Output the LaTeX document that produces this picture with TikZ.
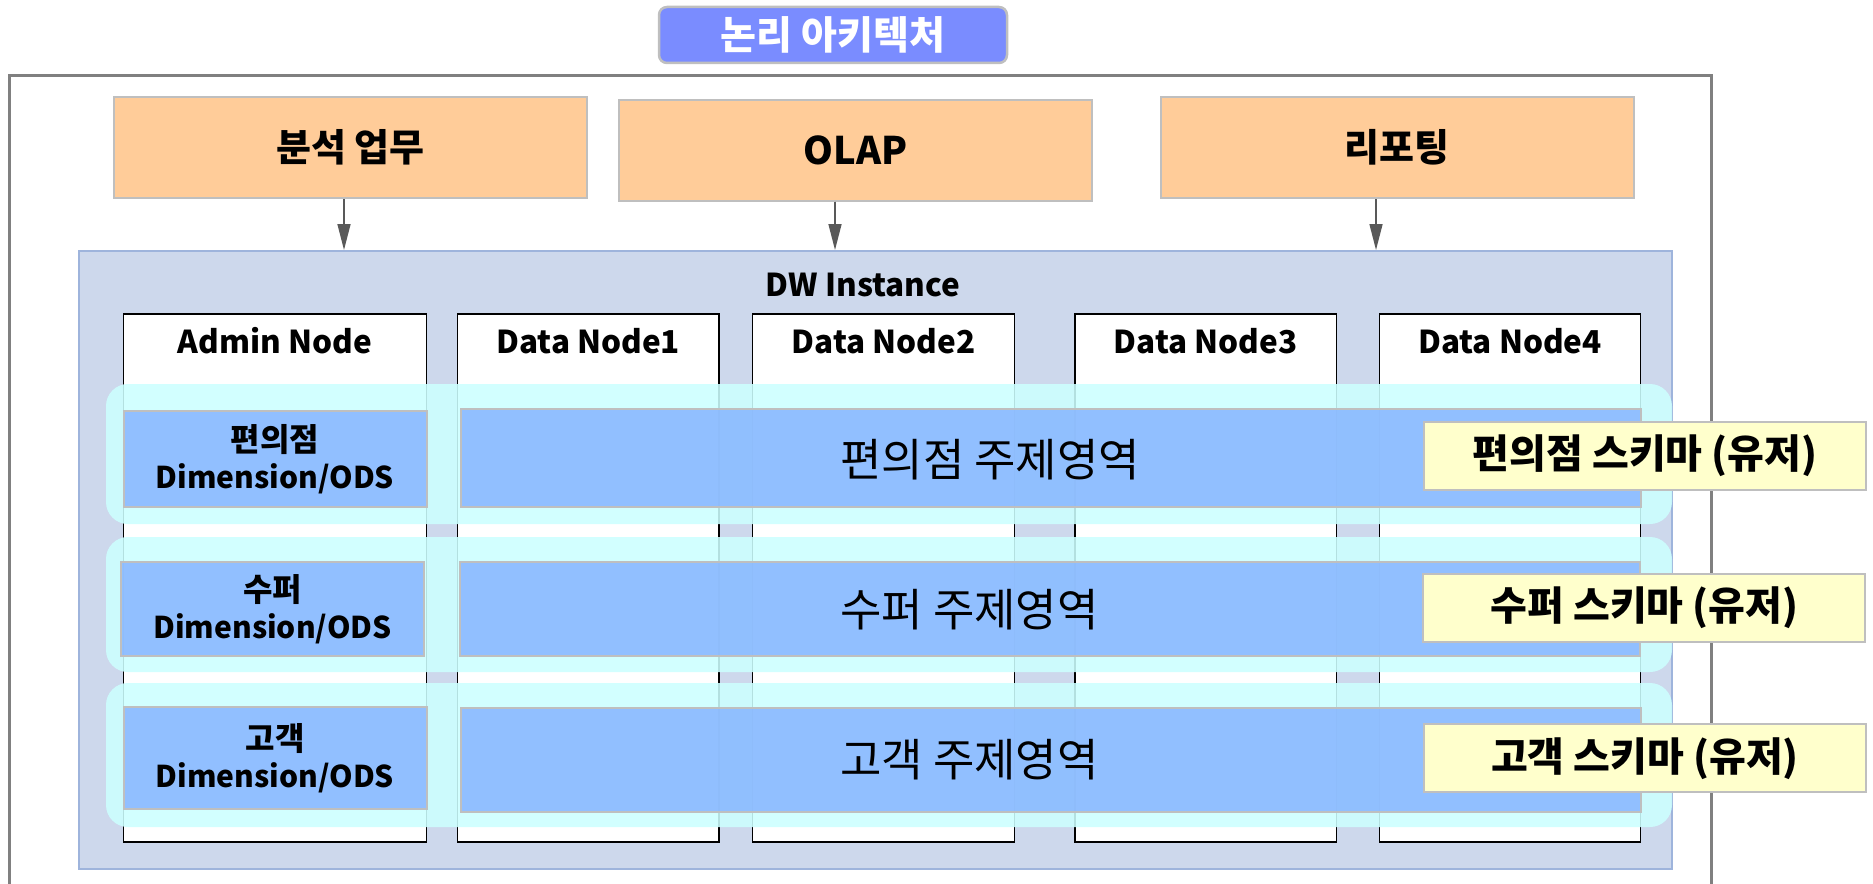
\documentclass[tikz,border=0pt]{standalone}
\usepackage{fontspec}
\setmainfont{Noto Sans CJK KR}
\usetikzlibrary{positioning,arrows.meta}

\definecolor{titleblue}{RGB}{122,140,255}
\definecolor{framegray}{RGB}{128,128,128}
\definecolor{boxgray}{RGB}{191,191,191}
\definecolor{taskorange}{RGB}{255,204,153}
\definecolor{dwfill}{RGB}{205,216,236}
\definecolor{dwline}{RGB}{158,180,220}
\definecolor{bandcyan}{RGB}{204,255,255}
\definecolor{areablue}{RGB}{138,185,255}
\definecolor{schemayellow}{RGB}{255,255,204}
\definecolor{arrowgray}{RGB}{89,89,89}

\newcommand{\fsize}[2]{\fontsize{#1}{#2}\selectfont}

\tikzset{
  task/.style={draw=boxgray,line width=2pt,fill=taskorange,inner sep=0pt,minimum width=473pt,minimum height=101pt,font=\fsize{38}{42}\bfseries},
  column/.style={draw=black,line width=1.5pt,fill=white,inner sep=0pt,minimum height=528pt},
  colname/.style={font=\fsize{31.5}{36}\bfseries},
  band/.style={fill=bandcyan,fill opacity=0.88,rounded corners=22pt,inner sep=0pt,minimum width=1566pt},
  dimbox/.style={draw=boxgray,line width=2pt,fill=areablue,fill opacity=0.9,text opacity=1,inner sep=0pt,minimum width=303pt,align=center,font=\fsize{32}{37}\bfseries},
  areabox/.style={draw=boxgray,line width=2pt,fill=areablue,fill opacity=0.9,inner sep=0pt,minimum width=1180pt},
  areaname/.style={inner sep=0pt,anchor=west,font=\fsize{45}{50}},
  schema/.style={draw=boxgray,line width=2pt,fill=schemayellow,inner sep=0pt,minimum width=442pt,minimum height=68pt,font=\fsize{40}{44}\bfseries},
  feed/.style={-{Triangle[length=26pt,width=13pt]},line width=1.5pt,draw=arrowgray,fill=arrowgray}
}

\begin{document}
\begin{tikzpicture}[x=1pt,y=-1pt]
 \useasboundingbox (0,0) rectangle (1873,883);

 %Frame
 \draw[framegray,line width=3pt] (9,895) -- (9,75) -- (1711,75) -- (1711,895);

 %Title
 \node (title) [draw=boxgray,line width=2.5pt,fill=titleblue,rounded corners=8pt,minimum width=348pt,minimum height=56pt,inner sep=0pt,text=white,font=\fsize{39}{44}\bfseries] at (833,35) {논리 아키텍처};

 %Tasks
 \node (analysis) [task] at (350.5,147.5) {분석 업무};
 \node (olap) [task] at (855.5,150) {OLAP};
 \node (reporting) [task] at (1397,147.5) {리포팅};

 %DW instance
 \node (dw) [draw=dwline,line width=1.5pt,fill=dwfill,inner sep=0pt,minimum width=1593pt,minimum height=618pt] at (875.5,560) {};
 \node (dw-name) [font=\fsize{31.5}{36}\bfseries] at (863,285) {DW Instance};

 %Arrows
 \coordinate (in-analysis) at (344,250);
 \coordinate (in-olap) at (835,250);
 \coordinate (in-reporting) at (1376,250);
 \draw[feed] (analysis.south -| in-analysis) -- (in-analysis);
 \draw[feed] (olap.south -| in-olap) -- (in-olap);
 \draw[feed] (reporting.south -| in-reporting) -- (in-reporting);

 %Nodes
 \foreach \name/\x/\w/\text in {admin/275/303/Admin Node,data1/588.25/261.5/Data Node1,data2/883.5/261.6/Data Node2,data3/1205.6/261.3/Data Node3,data4/1510/261/Data Node4}
 {
  \node (\name) [column,minimum width=\w pt] at (\x,578) {};
  \node (\name-name) [colname] at (\x,341) {\text};
 }

 %Bands
 \foreach \i/\y/\h in {1/454/140,2/604.5/135,3/755/144}
  \node (band\i) [band,minimum height=\h pt] at (889,\y) {};

 %Dimension/ODS
 \node (dim1) [dimbox,minimum height=96.6pt] at (275,459) {편의점\\{\fsize{30}{37}Dimension/ODS}};
 \node (dim2) [dimbox,minimum height=93.4pt] at (272.5,609) {수퍼\\{\fsize{30}{37}Dimension/ODS}};
 \node (dim3) [dimbox,minimum height=102.6pt] at (275,758) {고객\\{\fsize{30}{37}Dimension/ODS}};

 %Subject areas
 \node (area1) [areabox,minimum height=98pt] at (1051.25,458.3) {};
 \node (area2) [areabox,minimum height=94pt] at (1050.15,608.7) {};
 \node (area3) [areabox,minimum height=104.6pt] at (1051.25,760) {};
 \node (area1-name) [areaname] at (840,460) {편의점 주제영역};
 \node (area2-name) [areaname] at (840,610) {수퍼 주제영역};
 \node (area3-name) [areaname] at (840,760) {고객 주제영역};

 %Schemas
 \node (schema1) [schema] at (1645,456) {편의점 스키마 (유저)};
 \node (schema2) [schema] at (1644.4,608) {수퍼 스키마 (유저)};
 \node (schema3) [schema] at (1645,758.3) {고객 스키마 (유저)};
\end{tikzpicture}
\end{document}
